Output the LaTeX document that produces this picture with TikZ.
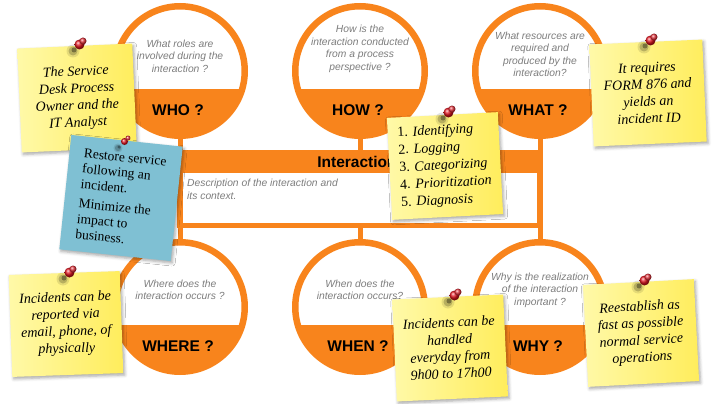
\documentclass[tikz,border=0pt]{standalone}
\usepackage{fontspec}
\setmainfont{Liberation Sans}
\newfontfamily\notefont{Liberation Serif}
\usetikzlibrary{shadows.blur,calc}
\definecolor{orng}{RGB}{248,132,28}
\definecolor{qgray}{RGB}{125,125,125}
\definecolor{noteL}{RGB}{255,249,168}
\definecolor{noteR}{RGB}{255,237,92}
\definecolor{noteblue}{RGB}{127,192,211}
\definecolor{pinred}{RGB}{225,20,30}

\newcommand{\qcircle}[6]{%
  \node[qring] (#1) at (#2,#3) {};
  \begin{scope}
    \clip (#1.center) circle (64.75pt);
    \fill[orng] (#2-70,#3+18) rectangle (#2+70,#3+72);
  \end{scope}
  \node[qtext] (#1q) at (#2,#4) {#5};
  \node[wlabel] (#1l) at (#2-2,#3+39) {#6};
}
\newcommand{\mypushpin}[3]{%
  \fill[black,opacity=0.10] (#1-9,#2+9) circle (#3*1.3pt);
  \fill[black,opacity=0.20] (#1-9,#2+9) circle (#3*0.9pt);
  \fill[black,opacity=0.35] (#1-8,#2+8) circle (#3*0.5pt);
  \shade[ball color=pinred] (#1-2.5,#2+2.5) circle (#3*1pt);
  \shade[ball color=pinred!85!white] (#1+1,#2-1) circle (#3*0.7pt);
}

\begin{document}
\begin{tikzpicture}[x=1pt,y=-1pt,
  qring/.style={circle, draw=orng, line width=6.5pt, fill=white, minimum size=129.5pt, inner sep=0pt},
  qtext/.style={font=\fontsize{10.3}{12.5}\selectfont\itshape, text=qgray, align=center},
  wlabel/.style={font=\fontsize{15.5}{17}\selectfont\bfseries, text=black},
  stem/.style={draw=orng, line width=5pt, shorten <=-2pt, shorten >=-1pt},
  notebase/.style={rectangle, inner sep=0pt, minimum width=111pt, minimum height=102pt,
    blur shadow={shadow xshift=1.5pt, shadow yshift=-2pt, shadow blur radius=3pt, shadow opacity=35},
    text=black},
  stickynote/.style={notebase, left color=noteL, right color=noteR, align=center,
    font=\notefont\itshape\fontsize{14}{17}\selectfont},
  bluenote/.style={notebase, fill=noteblue, align=left,
    font=\notefont\fontsize{13.5}{15.5}\selectfont},
  ]
\useasboundingbox (0,0) rectangle (715,404);

% circles
\qcircle{who}{180}{71}{56}{What roles are\\involved during the\\interaction ?}{WHO ?}
\qcircle{how}{360}{71}{49}{How is the\\interaction conducted\\from a process\\perspective ?}{HOW ?}
\qcircle{what}{540}{71}{54.5}{What resources are\\required and\\produced by the\\interaction?}{WHAT ?}
\qcircle{where}{180}{307}{290}{Where does the\\interaction occurs ?}{WHERE ?}
\qcircle{when}{360}{307}{290}{When does the\\interaction occurs?}{WHEN ?}
\qcircle{why}{540}{307}{290}{Why is the realization\\of the interaction\\important ?}{WHY ?}

% frame
\node[fill=orng, minimum width=366pt, minimum height=78pt, inner sep=0pt] (frame) at (360,189) {};
\node[fill=white, minimum width=354pt, minimum height=50pt, inner sep=0pt] (descbox) at (360,198) {};
\node[font=\fontsize{15.5}{17}\selectfont\bfseries] (title) at (357,162) {Interaction};
\node[qtext, align=left, anchor=north west, inner sep=0pt] (desc) at (187,179) {Description of the interaction and\\its context.};

% stems
\foreach \c in {who,how,what} \draw[stem] (\c.south) -- (\c.south |- frame.north);
\foreach \c in {where,when,why} \draw[stem] (\c.north) -- (\c.north |- frame.south);

% notes
\node[stickynote, rotate=2.5, minimum width=115pt, minimum height=104pt] (n1) at (77,98) {The Service\\Desk Process\\Owner and the\\IT Analyst};
\mypushpin{82}{42}{5}
\node[bluenote, rotate=-6, minimum width=112pt, minimum height=115pt] (n2) at (121,198) {Restore service\\following an\\incident.\\[4pt]Minimize the\\impact to\\business.};
\mypushpin{127}{139}{3.5}
\node[stickynote, rotate=3, align=left, font=\notefont\fontsize{14}{17.5}\selectfont] (n3) at (445,166) {1. \textit{Identifying}\\2. \textit{Logging}\\3. \textit{Categorizing}\\4. \textit{Prioritization}\\5. \textit{Diagnosis}};
\mypushpin{451}{110}{5}
\node[stickynote, rotate=2.5, minimum width=113pt] (n4) at (648,93) {It requires\\FORM 876 and\\yields an\\incident ID};
\mypushpin{653}{38}{5}
\node[stickynote, rotate=2] (n5) at (66,324) {Incidents can be\\reported via\\email, phone, of\\physically};
\mypushpin{72}{270}{5}
\node[stickynote, rotate=2.6] (n6) at (450,348) {Incidents can be\\handled\\everyday from\\9h00 to 17h00};
\mypushpin{457}{293}{5}
\node[stickynote, rotate=3] (n7) at (641,333) {Reestablish as\\fast as possible\\normal service\\operations};
\mypushpin{647}{278}{5}
\end{tikzpicture}
\end{document}
